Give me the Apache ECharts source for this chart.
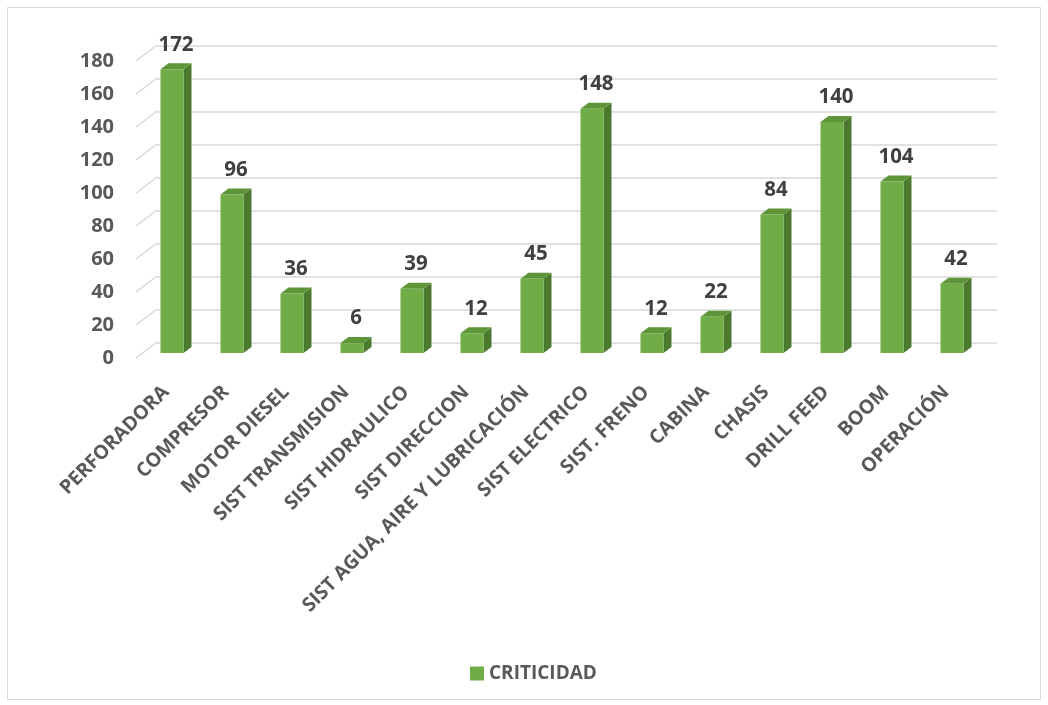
<!DOCTYPE html>
<html>
<head>
<meta charset="utf-8">
<script src="https://cdn.jsdelivr.net/npm/echarts@6/dist/echarts.min.js"></script>
<style>
  html, body { margin: 0; padding: 0; background: #fff; }
  #chart { width: 1048px; height: 705px; }
</style>
</head>
<body>
<div id="chart"></div>
<script>
// Criticidad por sistema del equipo
const categories = [
  'PERFORADORA', 'COMPRESOR', 'MOTOR DIESEL', 'SIST TRANSMISION', 'SIST HIDRAULICO',
  'SIST DIRECCION', 'SIST AGUA, AIRE Y LUBRICACIÓN', 'SIST ELECTRICO', 'SIST. FRENO',
  'CABINA', 'CHASIS', 'DRILL FEED', 'BOOM', 'OPERACIÓN'
];
const criticidad = [172, 96, 36, 6, 39, 12, 45, 148, 12, 22, 84, 140, 104, 42];
const yTicks = [0, 20, 40, 60, 80, 100, 120, 140, 160, 180];

const FONT = '"Open Sans", "DejaVu Sans", sans-serif';
const GREEN = '#70AD47';
const GREEN_SIDE = '#4B7A2E';
const GREEN_TOP = '#5E9539';

// depth of the 3D bars (px) and of the back wall relative to the front plane
const BAR_W = 23, BAR_DX = 8, BAR_DY = 6;
const WALL_DX = 21, WALL_DY = -16;

const chart = echarts.init(document.getElementById('chart'), null, { renderer: 'canvas' });

const option = {
  backgroundColor: '#fff',
  animation: false,
  graphic: [{
    type: 'rect',
    shape: { x: 7.5, y: 7.5, width: 1033, height: 692 },
    style: { fill: 'none', stroke: '#d9d9d9', lineWidth: 1 },
    silent: true, z: -10
  }],
  grid: [
    // back wall
    { left: 157, right: 51, top: 46, bottom: 362 },
    // bar plane
    { left: 142, right: 66, top: 56, bottom: 352 },
    // front plane (axis labels)
    { left: 136, right: 72, top: 61, bottom: 347 }
  ],
  xAxis: [
    { gridIndex: 0, type: 'category', data: categories, axisLine: { show: false }, axisTick: { show: false }, axisLabel: { show: false } },
    { gridIndex: 1, type: 'category', data: categories, axisLine: { show: false }, axisTick: { show: false }, axisLabel: { show: false } },
    {
      gridIndex: 2, type: 'category', data: categories,
      axisLine: { show: false }, axisTick: { show: false },
      axisLabel: {
        interval: 0, rotate: 45, margin: 31,
        fontFamily: FONT, fontWeight: 'bold', fontSize: 19.5, color: '#595959'
      }
    }
  ],
  yAxis: [
    {
      gridIndex: 0, type: 'value', min: 0, max: 180, interval: 20,
      axisLine: { show: false }, axisTick: { show: false }, axisLabel: { show: false },
      splitLine: { lineStyle: { color: '#d9d9d9', width: 1.5 } }
    },
    {
      gridIndex: 1, type: 'value', min: 0, max: 180, interval: 20,
      axisLine: { show: false }, axisTick: { show: false }, axisLabel: { show: false }, splitLine: { show: false }
    },
    {
      gridIndex: 2, type: 'value', min: 0, max: 180, interval: 20,
      axisLine: { show: false }, axisTick: { show: false }, splitLine: { show: false },
      axisLabel: { margin: 22, fontFamily: FONT, fontWeight: 'bold', fontSize: 20, color: '#595959' }
    }
  ],
  legend: {
    data: ['CRITICIDAD'],
    left: 465, top: 659,
    icon: 'rect', itemWidth: 14, itemHeight: 14, itemGap: 6,
    textStyle: { fontFamily: FONT, fontWeight: 'bold', fontSize: 19, color: '#595959' }
  },
  series: [
    {
      // short depth edges joining the front plane to the back wall
      name: 'wall',
      type: 'custom',
      xAxisIndex: 2, yAxisIndex: 2,
      silent: true,
      data: yTicks.map(t => [0, t]),
      renderItem(params, api) {
        const p = api.coord([api.value(0), api.value(1)]);
        const band = api.size([1, 0])[0];
        const x = p[0] - band / 2;
        return {
          type: 'line',
          shape: { x1: x, y1: p[1], x2: x + WALL_DX, y2: p[1] + WALL_DY },
          style: { stroke: '#d9d9d9', lineWidth: 1.5 }
        };
      },
      z: 1
    },
    {
      name: 'CRITICIDAD',
      type: 'custom',
      xAxisIndex: 1, yAxisIndex: 1,
      itemStyle: { color: GREEN },
      data: criticidad.map((v, i) => [i, v]),
      renderItem(params, api) {
        const top = api.coord([api.value(0), api.value(1)]);
        const base = api.coord([api.value(0), 0]);
        const x0 = top[0] - BAR_W / 2, x1 = top[0] + BAR_W / 2;
        const yT = top[1], yB = base[1];
        return {
          type: 'group',
          children: [
            { // right side face
              type: 'polygon',
              shape: { points: [[x1, yT], [x1 + BAR_DX, yT - BAR_DY], [x1 + BAR_DX, yB - BAR_DY], [x1, yB]] },
              style: { fill: GREEN_SIDE }
            },
            { // top face
              type: 'polygon',
              shape: { points: [[x0, yT], [x0 + BAR_DX, yT - BAR_DY], [x1 + BAR_DX, yT - BAR_DY], [x1, yT]] },
              style: { fill: GREEN_TOP }
            },
            { // front face
              type: 'rect',
              shape: { x: x0, y: yT, width: BAR_W, height: yB - yT },
              style: { fill: GREEN }
            },
            { // value label
              type: 'text',
              x: top[0] + BAR_DX / 2,
              y: yT - BAR_DY - 8,
              style: {
                text: String(api.value(1)),
                fontFamily: FONT, fontWeight: 'bold', fontSize: 20.5,
                fill: '#404040', align: 'center', verticalAlign: 'bottom'
              }
            }
          ]
        };
      },
      z: 3
    }
  ]
};

chart.setOption(option);
</script>
</body>
</html>
